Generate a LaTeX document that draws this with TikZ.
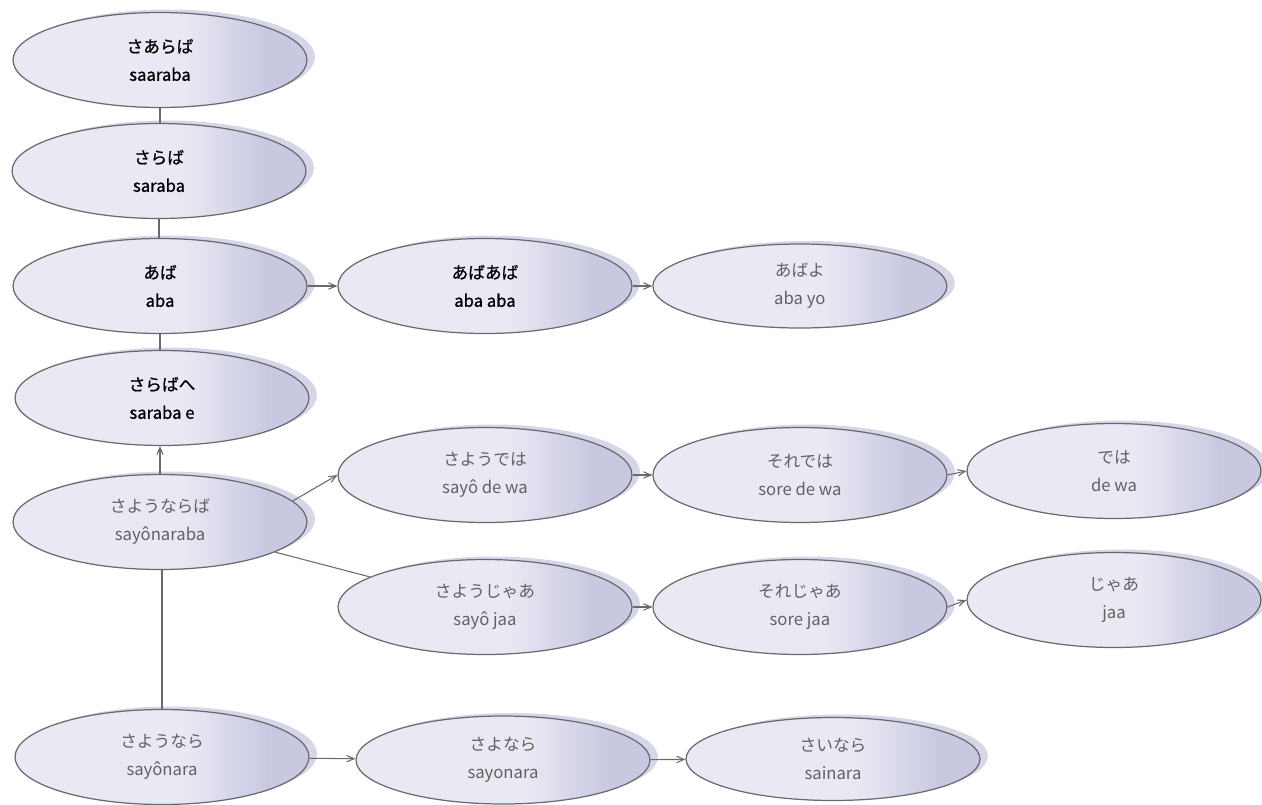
\documentclass[tikz,border=0pt]{standalone}
\usepackage{fontspec}
\setmainfont{Noto Sans CJK JP}
\newfontfamily\strongfont{Noto Sans CJK JP}[FakeBold=0.9]
\usetikzlibrary{arrows, shapes, shadows}
\definecolor{lite}{RGB}{233,233,244}
\definecolor{lav}{RGB}{200,200,225}
\definecolor{rim}{RGB}{105,105,110}
\pgfdeclarehorizontalshading{wordshade}{100bp}{color(0bp)=(lite); color(25bp)=(lite);
  color(54bp)=(lite); color(68bp)=(lav); color(100bp)=(lav)}
\tikzset{
  node distance=6.3cm,
  every node/.style={align=center, font=\fontsize{9.5}{16}\selectfont}
}

\begin{document}
\begin{tikzpicture}[x=0.02cm, y=-0.02cm]
\tikzstyle{word}=[ellipse, draw=rim, line width=0.7pt, inner sep=0pt,
  minimum width=5.88cm, minimum height=1.9cm, shading=wordshade,
  drop shadow={shadow xshift=1.6mm, shadow yshift=0.6mm, fill=lav, opacity=0.75}]
% old forms in black, later ones in grey
\tikzstyle{strong}=[word, text=black, font=\fontsize{9.5}{16}\selectfont\strongfont]
\tikzstyle{faint}=[word, text=black!62]

\tikzstyle{link}=[draw=rim, line width=0.6pt]
\tikzstyle{flow}=[-angle 45, draw=rim, line width=0.6pt]

\useasboundingbox (0,0) rectangle (1262,805);

% left column
\node[strong](saaraba) at (160,60){さあらば\\saaraba};
\node[strong](saraba) at (159,171){さらば\\saraba};
\node[strong](aba) at (160,286){あば\\aba};
\node[strong](sarabae) at (162,398){さらばへ\\saraba e};
\node[faint](sayonaraba) at (160,522){さようならば\\sayônaraba};
\node[faint](sayonara) at (162,757){さようなら\\sayônara};

% aba row
\node[strong, right of=aba, node distance=6.5cm](abaaba){あばあば\\aba aba};
\node[faint, right of=abaaba, minimum height=1.68cm](abayo){あばよ\\aba yo};

% de wa row
\node[faint](sayodewa) at (485,475){さようでは\\sayô de wa};
\node[faint, right of=sayodewa](soredewa){それでは\\sore de wa};
\node[faint](dewa) at (1114,471){では\\de wa};

% jaa row
\node[faint](sayojaa) at (485,607){さようじゃあ\\sayô jaa};
\node[faint, right of=sayojaa](sorejaa){それじゃあ\\sore jaa};
\node[faint](jaa) at (1114,600){じゃあ\\jaa};

% sayonara row
\node[faint, minimum height=1.76cm](sayonara2) at (503,760){さよなら\\sayonara};
\node[faint, minimum height=1.66cm](sainara) at (833,759){さいなら\\sainara};

\draw[link](saaraba.south) to (saaraba.south |- saraba.north);
\draw[link](saraba.south) to (saraba.south |- aba.north);
\draw[link](aba.south) to (aba.south |- sarabae.north);
\draw[flow](sayonaraba.north) to (sayonaraba.north |- sarabae.south);
\draw[link](sayonara.north) to (sayonara.north |- sayonaraba.south);
\draw[flow](aba) to (abaaba);
\draw[flow](abaaba) to (abayo);
\draw[flow](sayonaraba.9) to (sayodewa.west);
\draw[link](sayonaraba) to (sayojaa);
\draw[flow](sayodewa) to (soredewa);
\draw[flow](soredewa.east) to (dewa.west);
\draw[flow](sayojaa) to (sorejaa);
\draw[flow](sorejaa.east) to (jaa.west);
\draw[flow](sayonara) to (sayonara2);
\draw[flow](sayonara2) to (sainara);

\end{tikzpicture}
\end{document}
